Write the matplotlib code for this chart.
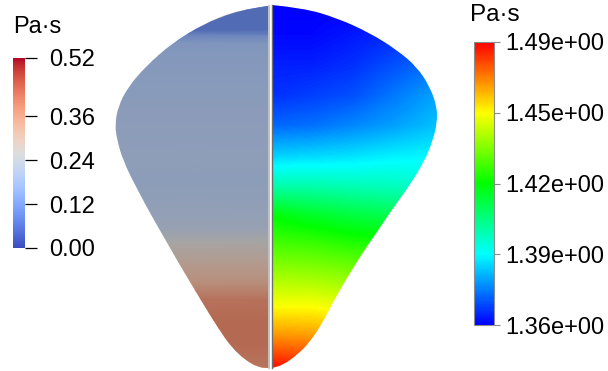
import matplotlib
matplotlib.use("Agg")
import matplotlib.pyplot as plt
import numpy as np
from matplotlib.colors import LinearSegmentedColormap, Normalize
from matplotlib.path import Path
from matplotlib.patches import PathPatch
from matplotlib.cm import ScalarMappable
from matplotlib.ticker import FormatStrFormatter

plt.rcParams['font.family'] = ['Liberation Sans', 'DejaVu Sans']

# ==================== Section outline (px, y pointing down) ====================
left_outline_x = [268, 238, 205, 172, 145, 128, 118, 115, 117, 123, 135,
                  155, 178, 202, 218, 232, 245, 258, 268]
left_outline_y = [6, 10, 23, 43, 67, 87, 107, 123, 140, 160, 185,
                  222, 262, 302, 328, 348, 360, 367, 368]
right_outline_x = [272, 303, 337, 370, 397, 417, 430, 437, 437, 433, 425,
                   410, 393, 377, 363, 347, 333, 323, 310, 297, 283, 272]
right_outline_y = [5, 8, 18, 33, 50, 67, 87, 107, 123, 140, 160,
                   185, 208, 232, 252, 278, 302, 322, 342, 355, 365, 368]

# ==================== Left half: viscosity vs depth ====================
left_depth = [6, 30, 36, 44, 60, 100, 130, 155, 180, 210, 228,
              242, 262, 282, 300, 320, 345, 368]
left_visc = [0.085, 0.085, 0.14, 0.178, 0.186, 0.196, 0.2, 0.207, 0.203,
             0.212, 0.225, 0.262, 0.30, 0.335, 0.39, 0.405, 0.405, 0.385]
left_vmin, left_vmax = 0.0, 0.52
left_ticks = [0.00, 0.12, 0.24, 0.36, 0.52]

# ==================== Right half: viscosity field ====================
right_cols = [272, 312, 352, 392, 432]
right_rows = [5, 35, 65, 95, 125, 155, 185, 215, 245, 275, 305, 335, 365]
right_visc = [
    [1.358, 1.358, 1.358, 1.359, 1.361],
    [1.359, 1.359, 1.361, 1.363, 1.366],
    [1.362, 1.362, 1.364, 1.368, 1.372],
    [1.364, 1.366, 1.368, 1.373, 1.378],
    [1.371, 1.372, 1.375, 1.378, 1.382],
    [1.384, 1.385, 1.386, 1.388, 1.389],
    [1.400, 1.400, 1.399, 1.398, 1.396],
    [1.421, 1.417, 1.414, 1.412, 1.409],
    [1.431, 1.430, 1.427, 1.425, 1.422],
    [1.442, 1.441, 1.439, 1.436, 1.435],
    [1.453, 1.453, 1.450, 1.448, 1.445],
    [1.467, 1.466, 1.463, 1.460, 1.458],
    [1.483, 1.481, 1.477, 1.473, 1.471],
]
right_vmin, right_vmax = 1.358, 1.486
right_ticks = np.linspace(right_vmin, right_vmax, 5)

unit = "Pa·s"
rainbow = LinearSegmentedColormap.from_list(
    "fluent_rainbow", ["#0000ff", "#00ffff", "#00ff00", "#ffff00", "#ff0000"])


def half_path(xs, ys):
    # quadratic spline through the outline, closed straight along the cut plane
    pts = list(zip(xs, ys))
    verts = [pts[0]]
    codes = [Path.MOVETO]
    for i in range(1, len(pts) - 1):
        mid = ((pts[i][0] + pts[i + 1][0]) / 2, (pts[i][1] + pts[i + 1][1]) / 2)
        verts += [pts[i], mid]
        codes += [Path.CURVE3, Path.CURVE3]
    verts += [pts[-1], pts[0], pts[0]]
    codes += [Path.LINETO, Path.LINETO, Path.CLOSEPOLY]
    return Path(verts, codes)


W, H = 608, 371
fig = plt.figure(figsize=(W / 100, H / 100), dpi=100)
ax = fig.add_axes([0, 0, 1, 1])
ax.set_xlim(0, W)
ax.set_ylim(H, 0)
ax.axis('off')

# ---- left half ----
left_path = half_path(left_outline_x, left_outline_y)
left_clip = PathPatch(left_path, facecolor='none', edgecolor='none')
ax.add_patch(left_clip)
lx = np.array([[min(left_outline_x) - 2, 269]] * len(left_depth), dtype=float)
ly = np.array([[d, d] for d in left_depth], dtype=float)
lc = np.array([[v, v] for v in left_visc])
mesh = ax.pcolormesh(lx, ly, lc, shading='gouraud', cmap='coolwarm',
                     vmin=left_vmin, vmax=left_vmax)
mesh.set_clip_path(left_clip)
# lighting on the left surface
ax.add_patch(PathPatch(left_path, facecolor='black', alpha=0.25,
                       edgecolor='none'))

# ---- right half ----
right_path = half_path(right_outline_x, right_outline_y)
right_clip = PathPatch(right_path, facecolor='none', edgecolor='none')
ax.add_patch(right_clip)
dx = right_cols[1] - right_cols[0]
dy = right_rows[1] - right_rows[0]
im = ax.imshow(np.array(right_visc), cmap=rainbow, vmin=right_vmin,
               vmax=right_vmax, interpolation='bilinear',
               interpolation_stage='data', origin='upper', aspect='auto',
               extent=(right_cols[0] - dx / 2, right_cols[-1] + dx / 2,
                       right_rows[-1] + dy / 2, right_rows[0] - dy / 2))
im.set_clip_path(right_clip)

# edges along the cut plane
ax.plot([268.5, 268.5], [left_outline_y[0], left_outline_y[-1]],
        color='#b4b4b4', lw=1.2)
ax.plot([272, 272], [right_outline_y[0], right_outline_y[-1]],
        color='#6e6e6e', lw=1.0)

# ==================== Colorbars ====================
cax1 = fig.add_axes([13 / W, 1 - 248 / H, 12 / W, 190 / H])
cb1 = fig.colorbar(ScalarMappable(norm=Normalize(left_vmin, left_vmax),
                                  cmap='coolwarm'), cax=cax1)
cb1.outline.set_visible(False)
cb1.set_ticks(left_ticks)
cb1.set_ticks(left_ticks, minor=True)
cb1.ax.yaxis.set_major_formatter(FormatStrFormatter('%.2f'))
cb1.ax.yaxis.set_minor_formatter(FormatStrFormatter(''))
cb1.ax.tick_params(which='major', direction='out', length=8.6, width=0.9,
                   color='black', pad=9, labelsize=17)
cb1.ax.tick_params(which='minor', direction='in', length=4.3, width=0.9,
                   color='black')
fig.text(13 / W, 1 - 27 / H, unit, fontsize=17, va='center', ha='left')

cax2 = fig.add_axes([474 / W, 1 - 325 / H, 20 / W, 283 / H])
cb2 = fig.colorbar(ScalarMappable(norm=Normalize(right_vmin, right_vmax),
                                  cmap=rainbow), cax=cax2)
cb2.outline.set_edgecolor('#8c8c8c')
cb2.outline.set_linewidth(0.8)
cb2.set_ticks(right_ticks)
cb2.ax.yaxis.set_major_formatter(FormatStrFormatter('%.2e'))
cb2.ax.tick_params(direction='out', length=4, width=0.8, color='#8c8c8c',
                   pad=4, labelsize=17)
fig.text(470 / W, 1 - 15 / H, unit, fontsize=17.5, va='center', ha='left')

fig.savefig("out.png", dpi=100)
